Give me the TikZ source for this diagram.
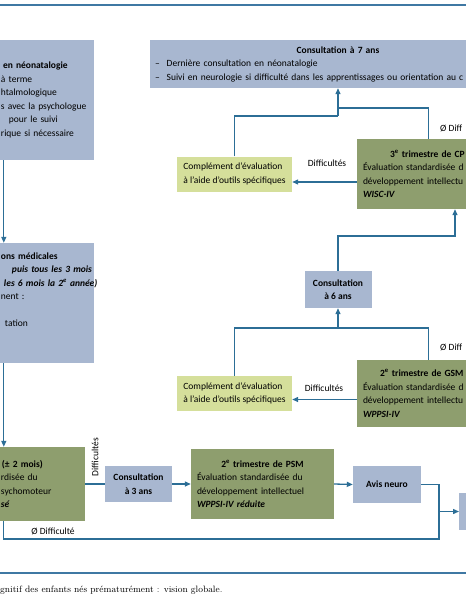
\documentclass[tikz,border=0pt]{standalone}
\usepackage{fontspec}
\setsansfont{Carlito}
\usepackage{tikz}
\usetikzlibrary{arrows.meta}
\definecolor{boxblue}{HTML}{A8B7D0}
\definecolor{boxgreen}{HTML}{8E9E6E}
\definecolor{boxyellow}{HTML}{D5DF9B}
\definecolor{linkblue}{HTML}{2C6E96}
\definecolor{rulecol}{HTML}{3F78A3}
\newcommand{\boxtitle}[1]{\makebox[\linewidth]{\bfseries #1}}

\begin{document}
\begin{tikzpicture}[x=1pt, y=-1pt,
    every node/.style={font=\sffamily\fontsize{9.5}{13.5}\selectfont, inner sep=0pt},
    bluebox/.style={fill=boxblue},
    greenbox/.style={fill=boxgreen},
    yellowbox/.style={fill=boxyellow, minimum width=115pt, minimum height=35pt, align=left},
    stagebox/.style={greenbox, minimum width=143pt, text width=131pt, inner xsep=6pt, align=left},
    link/.style={linkblue, line width=1.3pt},
    arr/.style={link, -{Triangle[length=6pt,width=5pt]}}]
    % Visible part of the chart (boxes on both sides are cut)
    \useasboundingbox (0,0) rectangle (466,600);
    \clip (0,0) rectangle (466,600);

    % Rules above and below the chart
    \draw[rulecol, line width=1.3pt] (0,5) -- (466,5);
    \draw[rulecol, line width=1.3pt] (0,573) -- (466,573);

    % Left column
    \node[bluebox, minimum width=94pt, minimum height=120pt, text width=92pt, inner xsep=1pt, align=left] (neo) at (47,100)
        {\hspace*{2pt}\textbf{en néonatalogie}\\à terme\\htalmologique\\s avec la psychologue\\\hspace*{8pt}pour le suivi\\rique si nécessaire};
    \node[bluebox, minimum width=94pt, minimum height=120pt, text width=92pt, inner xsep=1pt, align=left] (med) at (47,303)
        {\textbf{ons médicales}\\\mbox{\hspace*{11pt}\textbf{\textit{puis tous les 3 mois}}}\\\mbox{\hspace*{3pt}\textbf{\textit{les 6 mois la 2\textsuperscript{e} année)}}}\\nent :\\\mbox{}\\\hspace*{4pt}tation\\\mbox{}\\\mbox{}};
    \node[greenbox, minimum width=85pt, minimum height=74pt, text width=83pt, inner xsep=1pt, align=left] (psy) at (42.5,484)
        {\hspace*{1pt}\textbf{(± 2 mois)}\\rdisée du\\sychomoteur\\\textbf{\textit{sé}}};

    % Bottom row
    \node[bluebox, minimum width=67pt, minimum height=36pt, align=center] (c3) at (138.5,484) {\textbf{Consultation}\\\textbf{à 3 ans}};
    \node[stagebox, minimum height=70pt] (psm) at (262.5,484)
        {\boxtitle{2\textsuperscript{e} trimestre de PSM}\\Évaluation standardisée du\\développement intellectuel\\\textbf{\textit{WPPSI-IV réduite}}};
    \node[bluebox, minimum width=68pt, minimum height=37pt] (avis) at (387,484.5) {\textbf{Avis neuro}};
    \node[bluebox, minimum width=40pt, minimum height=37pt, anchor=west] (nxt) at (459,511.5) {};
    \coordinate (junc) at (439,511.5);
    \coordinate (low) at (439,539);

    % Right part
    \node[bluebox, minimum width=376pt, minimum height=48pt, text width=366pt, inner xsep=5pt, align=left] (c7) at (338,64)
        {\boxtitle{Consultation à 7 ans}\\–\hspace{7pt}Dernière consultation en néonatalogie\\\mbox{–\hspace{7pt}Suivi en neurologie si difficulté dans les apprentissages ou orientation au c}};
    \node[yellowbox] (comp1) at (234.5,174) {Complément d’évaluation\\à l’aide d’outils spécifiques};
    \node[stagebox, minimum height=70pt] (cp) at (428.5,174)
        {\hspace*{27pt}\textbf{3\textsuperscript{e} trimestre de CP}\\Évaluation standardisée d\\développement intellectu\\\textbf{\textit{WISC-IV}}};
    \node[bluebox, minimum width=67pt, minimum height=37pt, align=center] (c6) at (338,289.5) {\textbf{Consultation}\\\textbf{à 6 ans}};
    \node[yellowbox] (comp2) at (234.5,393.5) {Complément d’évaluation\\à l’aide d’outils spécifiques};
    \node[stagebox, minimum height=67pt] (gsm) at (428.5,393.5)
        {\mbox{\hspace*{17pt}\textbf{2\textsuperscript{e} trimestre de GSM}}\\Évaluation standardisée d\\développement intellectu\\\textbf{\textit{WPPSI-IV}}};
    \coordinate (m7) at (338,108);
    \coordinate (m7a) at (338,116);
    \coordinate (m6) at (338,328);
    \coordinate (t6) at (455,236);

    % Follow-up down the left column
    \draw[arr] ([xshift=4pt]neo.south west) -- ([xshift=4pt]med.north west);
    \draw[arr] ([xshift=4pt]med.south west) -- ([xshift=4pt]psy.north west);
    \draw[link] ([xshift=4pt]psy.south west) |- (low) -- (junc);
    \node (nodiff1) at (53,531) {Ø Difficulté};

    % Bottom row links
    \draw[link] (psy.east) -- (c3.west);
    \node[rotate=90] (diff0) at (95,457) {Difficultés};
    \draw[arr] (c3.east) -- (psm.west);
    \draw[arr] (psm.east) -- (avis.west);
    \draw[link] (avis.east) -| (junc);
    \draw[arr] (junc) -- (nxt.west);

    % GSM and consultation at 6
    \draw[arr] ([yshift=-6pt]gsm.west) -- ([yshift=-6pt]comp2.east);
    \node (diff2) at (324,388) {Difficultés};
    \draw[link] (comp2.north) |- (m6);
    \draw[link] (gsm.north) |- (m6);
    \draw[arr] (m6) -- (c6.south);
    \node[anchor=west] (nodiff2) at (440,347) {Ø Diff};
    \draw[arr] (c6.north) |- (t6) -- (t6 |- cp.south);

    % CP and consultation at 7
    \draw[arr] ([yshift=-8pt]cp.west) -- ([yshift=-8pt]comp1.east);
    \node (diff1) at (327,163) {Difficultés};
    \draw[link] (comp1.north) |- (m7a);
    \draw[link] (cp.north) |- (m7);
    \draw[arr] (m7a) -- (c7.south);
    \node[anchor=west] (nodiff3) at (440,128) {Ø Diff};

    % Caption
    \node[anchor=west, font=\rmfamily\fontsize{9.2}{11}\selectfont] (caption) at (0,590) {gnitif des enfants nés prématurément : vision globale.};
\end{tikzpicture}
\end{document}
